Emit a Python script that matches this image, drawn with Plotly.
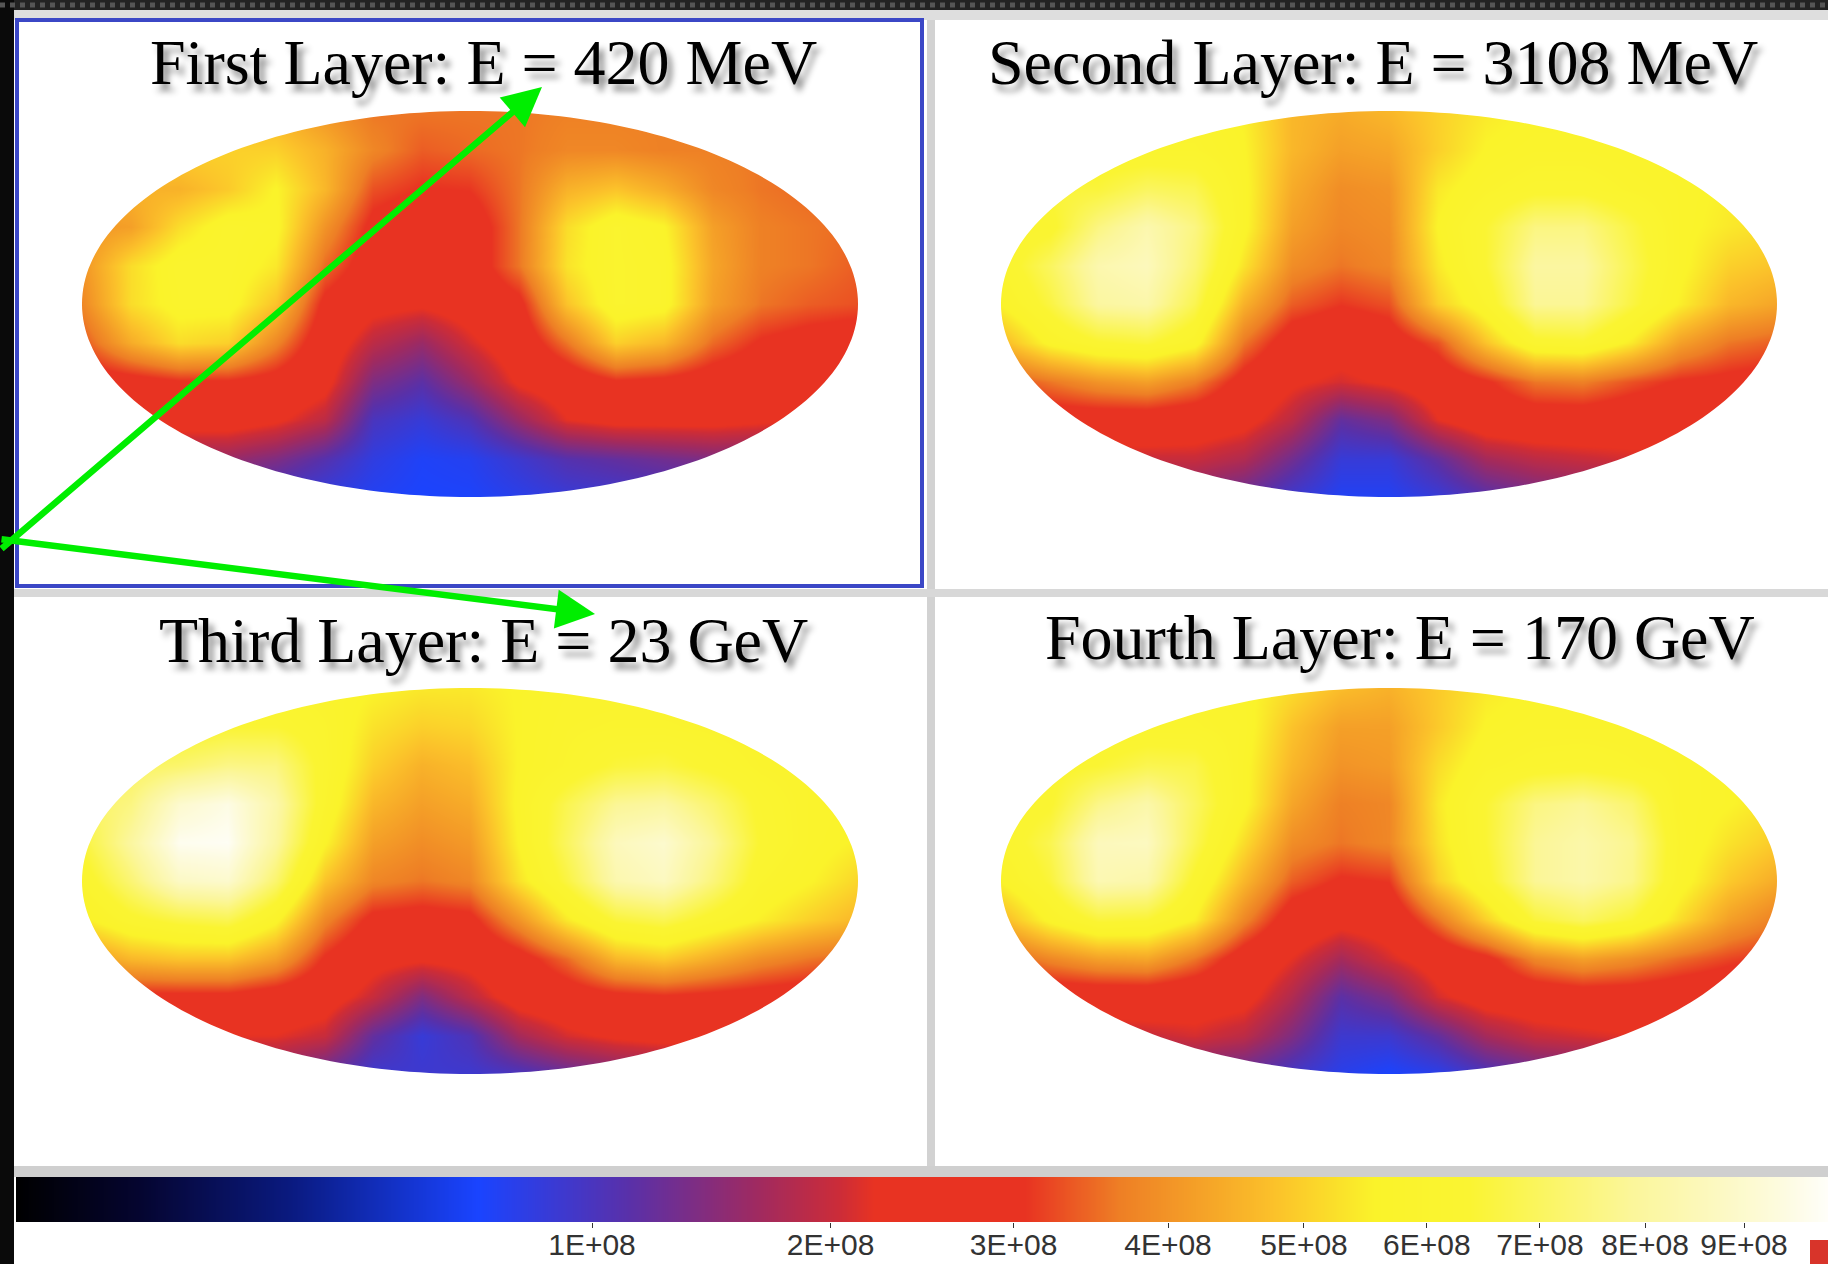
import numpy as np
import plotly.graph_objects as go

W, H = 1828, 1264

# Flux, in units of 1E+08; rows top to bottom, columns left to right
u_grid = [-1, -.875, -.75, -.625, -.5, -.375, -.25, -.125, 0, .125, .25, .375, .5, .625, .75, .875, 1]
v_grid = [1, .8, .6, .4, .2, 0, -.2, -.4, -.6, -.8, -1]

layer1 = [
    [4.5,4.5,4.5,4.5,4.5,4.0,3.6,3.6,3.6,3.6,3.7,3.7,3.7,3.7,3.7,3.6,3.6],
    [5,5,5,5,5.0,4.5,3.8,3.4,3.5,3.6,3.8,3.8,3.7,3.7,3.6,3.6,3.6],
    [4.5,4.5,4.5,4.9,5.6,4.6,3.3,3.05,3.1,3.6,4.5,4.8,4.4,3.8,3.6,3.5,3.5],
    [4.0,4.2,5.2,5.9,5.7,4.0,2.9,2.6,2.7,3.6,5.2,6,5.6,4.2,3.7,3.6,3.5],
    [4.0,5.2,5.9,5.9,5.4,3.5,2.7,2.5,2.7,3.6,5.3,6,5.8,4.3,3.7,3.6,3.4],
    [3.8,5.2,5.8,5.8,4.8,2.9,2.4,2.3,2.5,2.9,4.8,6,5.8,4.2,3.6,3.4,3.3],
    [3.3,4.4,5.2,5,3.8,2.6,1.9,1.6,2.1,2.6,3.6,5,4.6,3.5,3.0,2.8,2.7],
    [2.7,2.8,3,3,2.8,2.4,1.4,1.15,1.6,2.3,2.6,3,2.9,2.7,2.6,2.5,2.5],
    [2.5,2.5,2.5,2.5,2.3,1.9,1,.85,1.05,1.6,2.2,2.4,2.4,2.4,2.3,2.2,2.2],
    [1.6,1.6,1.6,1.6,1.4,1.1,.8,.68,.72,.9,1.1,1.2,1.3,1.4,1.4,1.4,1.4],
    [1,1,1,1,.9,.8,.7,.65,.66,.75,.85,.9,.95,1,1,1,1],
]
layer2 = [
    [5.8,5.8,5.8,5.8,5.8,5.5,4.6,4.4,4.6,5,5.4,5.6,5.6,5.6,5.6,5.6,5.6],
    [6,6,6,6,6,5.6,4.6,4.2,4.3,5,5.6,5.8,5.8,5.7,5.6,5.5,5.5],
    [6.5,6.5,6.5,7,6.8,5.7,4.4,3.9,4.0,5.4,5.9,6.2,6.2,5.9,5.7,5.5,5.5],
    [6,6.2,7.5,8.3,7.5,5.7,4.2,3.8,3.9,5.6,6.4,7.5,7.5,6.6,5.7,5.4,5.2],
    [6,7,8.3,8.6,7.3,5.3,3.9,3.6,3.8,5.4,6.4,8,8,6.8,5.7,5,4.8],
    [5.6,6.6,8,8.2,6.8,4.5,3.4,3.1,3.3,5,6,7.8,7.8,6.6,5.5,4.6,4.3],
    [4.6,5.7,6.3,6.5,5.8,3.6,2.7,2.5,2.7,3.3,4.8,6.2,6.3,5.4,4.2,3.6,3.4],
    [3.2,3.6,4,4.2,3.7,2.8,2.3,2.1,2.3,2.6,3,3.6,3.7,3.3,3,2.9,2.8],
    [2.6,2.7,2.7,2.7,2.6,2.4,1.9,1.2,1.4,2.2,2.6,2.7,2.7,2.6,2.6,2.5,2.5],
    [2,2,2,2,2,1.8,1.3,.85,.85,1.2,1.7,1.9,2,2.1,2.1,2.1,2.1],
    [1.5,1.5,1.5,1.5,1.4,1.2,.9,.7,.7,.85,1.1,1.3,1.4,1.4,1.4,1.4,1.4],
]
layer3 = [
    [6,6,6,6,6,5.8,5.6,5.4,5.4,5.6,5.8,5.8,5.8,5.8,5.8,5.8,5.8],
    [6.2,6.2,6.2,6.4,6.4,6,5.3,5,5.1,5.6,5.9,6,6,5.9,5.8,5.8,5.8],
    [7,7,7.2,7.6,7.5,6.1,5,4.5,4.7,5.6,6,6.5,6.6,6.2,5.9,5.8,5.8],
    [7,7.5,9,9.5,8.2,6,4.6,4.2,4.4,5.7,6.8,7.8,8,7.2,6.2,5.8,5.7],
    [6.5,8,9.7,9.8,8,5.6,4.2,3.9,4.1,5.6,7,8.6,9,7.8,6.3,5.8,5.5],
    [6,7.3,8.8,9,7.2,4.8,3.8,3.6,3.8,5.3,6.6,8.3,8.7,7.4,6,5.6,5.1],
    [5.4,6.2,6.6,6.8,5.7,3.8,2.9,2.8,2.9,4,5.4,6.5,6.8,6.1,5.5,5,4.6],
    [4,4.6,4.8,4.8,4.2,3,2.4,2.3,2.4,2.8,3.5,4.6,4.9,4.4,3.9,3.6,3.4],
    [2.8,2.9,2.9,2.9,2.7,2.5,2,1.4,1.9,2.5,2.7,2.9,3,2.9,2.8,2.7,2.6],
    [2.2,2.2,2.2,2.2,2.2,2,1.2,.85,1.05,1.7,2.1,2.3,2.4,2.4,2.3,2.3,2.3],
    [1.6,1.6,1.6,1.6,1.5,1.2,.9,.9,.9,1.0,1.2,1.4,1.5,1.5,1.5,1.5,1.5],
]
layer4 = [
    [5.8,5.8,5.8,5.8,5.8,5.7,5.2,4.7,4.5,4.9,5.4,5.6,5.6,5.6,5.6,5.6,5.6],
    [5.9,5.9,5.9,6,6,5.8,4.8,4.2,4.2,4.9,5.6,5.8,5.8,5.8,5.7,5.6,5.6],
    [6.2,6.2,6.4,6.8,6.7,5.7,4.6,4.0,4.1,5.2,5.9,6.1,6.2,6,5.8,5.6,5.5],
    [6,6.3,7.6,8.2,7,5.7,4.3,3.7,3.8,5.4,6.4,7.5,7.8,7.2,5.8,5.6,5.3],
    [6,6.8,8.6,8.7,6.8,5.2,3.9,3.6,3.8,5.3,6.4,7.8,8.2,7.7,5.9,5.3,4.9],
    [5.6,6.5,8.4,8.2,6.2,4.6,3.4,3.0,3.1,5,6.2,7.8,8.2,7.6,5.8,4.9,4.4],
    [4.6,5.7,6.5,6.4,5.5,3.8,2.7,2.4,2.5,3.6,5,6.5,7,6.4,5.2,4.2,3.7],
    [3.3,3.8,4.2,4.3,3.6,2.7,2.2,1.7,2.1,2.5,2.9,3.8,4.2,3.9,3.5,3.2,3],
    [2.6,2.6,2.6,2.6,2.5,2.4,1.8,1.15,1.4,2.1,2.5,2.6,2.7,2.7,2.6,2.5,2.5],
    [1.9,1.9,1.9,2,2.1,1.9,1.4,.9,.9,1.2,1.7,2,2.1,2.2,2.2,2.2,2.2],
    [1.3,1.3,1.3,1.3,1.3,1.2,.95,.75,.65,.75,1.0,1.2,1.3,1.4,1.4,1.4,1.4],
]

titles = ["First Layer: E = 420 MeV", "Second Layer: E = 3108 MeV",
          "Third Layer: E = 23 GeV", "Fourth Layer: E = 170 GeV"]
tick_values = [1, 2, 3, 4, 5, 6, 7, 8, 9]
tick_labels = ["1E+08", "2E+08", "3E+08", "4E+08", "5E+08", "6E+08", "7E+08", "8E+08", "9E+08"]

colorscale = [
    [0, "#000000"], [.068, "#050530"], [.151, "#0a1a80"], [.2535, "#1a44ff"],
    [.337, "#5a30a8"], [.407, "#a02a60"], [.452, "#cc2c38"], [.471, "#e83322"],
    [.554, "#e83322"], [.606, "#ee7f25"], [.689, "#fbc02a"], [.746, "#faf32a"],
    [.798, "#faf432"], [.887, "#fbf69a"], [.97, "#fdfbe0"], [1, "#ffffff"],
]
ZMAX = np.sqrt(10)

centres = [(470, 304), (1389, 304), (470, 881), (1389, 881)]
title_pos = [(483, 62), (1373, 62), (483, 640), (1400, 637)]
A, B = 388, 193
PADX, PADY = 1.1, 1.15


def px(x):
    return x / W


def py(y):
    return 1 - y / H


fig = go.Figure()
layout = dict(width=W, height=H, margin=dict(l=0, r=0, t=0, b=0, autoexpand=False), autosize=False,
              paper_bgcolor="white", plot_bgcolor="rgba(0,0,0,0)", showlegend=False)

shapes = []


def rect(x0, y0, x1, y1, fill, line=None, lw=0, layer="below"):
    shapes.append(dict(type="rect", xref="paper", yref="paper", x0=px(x0), x1=px(x1),
                       y0=py(y1), y1=py(y0), fillcolor=fill, layer=layer,
                       line=dict(color=line or fill, width=lw)))


rect(0, 0, W, 10, "#222222")
rect(0, 10, W, 20, "#dedede")
rect(0, 0, 14, H, "#0a0a0a")
rect(927, 20, 935, 1168, "#d2d2d2")
rect(14, 589, W, 597, "#d8d8d8")
rect(14, 1166, W, 1177, "#cfcfcf")
rect(1810, 1240, W, H, "#d8342a")
shapes.append(dict(type="line", xref="paper", yref="paper", x0=0, x1=1, y0=py(5), y1=py(5), layer="below",
                   line=dict(color="#555555", width=5, dash="dot")))

t = np.linspace(-1, 1, 241) * np.pi
ex, ey = np.cos(t), np.sin(t)

for i, (grid, (cx, cy)) in enumerate(zip([layer1, layer2, layer3, layer4], centres)):
    n = "" if i == 0 else str(i + 1)
    layout[f"xaxis{n}"] = dict(domain=[px(cx - A * PADX), px(cx + A * PADX)], range=[-PADX, PADX], visible=False,
                               anchor=f"y{n}", fixedrange=True, automargin=False)
    layout[f"yaxis{n}"] = dict(domain=[py(cy + B * PADY), py(cy - B * PADY)], range=[-PADY, PADY], visible=False,
                               anchor=f"x{n}", fixedrange=True, automargin=False)
    fig.add_trace(go.Heatmap(x=u_grid, y=v_grid, z=np.sqrt(np.array(grid)),
                             xaxis=f"x{n}", yaxis=f"y{n}", zmin=0, zmax=ZMAX, zsmooth="best",
                             colorscale=colorscale, showscale=False, hoverinfo="skip"))
    path = f"M {-PADX} {-PADY} L {PADX} {-PADY} L {PADX} {PADY} L {-PADX} {PADY} Z M " + " L ".join(
        f"{a:.4f} {b:.4f}" for a, b in zip(ex, ey)) + " Z"
    shapes.append(dict(type="path", xref=f"x{n}", yref=f"y{n}", path=path, fillcolor="white",
                       fillrule="evenodd", line=dict(width=0), layer="above"))

# Colour bar: square-root scale, so the tick spacing closes up to the right
bar_levels = np.linspace(0, ZMAX, 500)
layout["xaxis5"] = dict(domain=[px(16), 1], range=[0, (W - 16) / 576], anchor="y5", fixedrange=True,
                        automargin=False, tickmode="array", tickvals=np.sqrt(tick_values).tolist(),
                        ticktext=tick_labels, tickangle=0, ticks="outside", ticklen=5, tickcolor="#333",
                        ticklabelstandoff=-9, showgrid=False, zeroline=False, showline=False,
                        tickfont=dict(family="Liberation Sans Narrow, Liberation Sans", size=30, color="#333"))
layout["yaxis5"] = dict(domain=[py(1222), py(1177)], range=[0, 1], visible=False, anchor="x5", fixedrange=True,
                        automargin=False)
fig.add_trace(go.Heatmap(x=bar_levels, y=[0, 1], z=[bar_levels, bar_levels], xaxis="x5", yaxis="y5",
                         zmin=0, zmax=ZMAX, zsmooth="best", colorscale=colorscale,
                         showscale=False, hoverinfo="skip"))

# Frame around the first panel
shapes.append(dict(type="rect", xref="paper", yref="paper", x0=px(17), x1=px(922), y0=py(586), y1=py(20),
                   line=dict(color="#3b47c6", width=4), fillcolor="rgba(0,0,0,0)", layer="above"))

annotations = []
for text, (x, y) in zip(titles, title_pos):
    annotations.append(dict(text=text, x=px(x), y=py(y), xref="paper", yref="paper", showarrow=False,
                            xanchor="center", yanchor="middle",
                            font=dict(family="Liberation Serif", size=64, color="#000000",
                                      shadow="5px 7px 6px rgba(0,0,0,0.45)")))

for hx, hy, tx, ty in [(542, 87, -12, 550), (595, 614, -12, 539)]:
    annotations.append(dict(x=px(hx), y=py(hy), xref="paper", yref="paper", ax=tx - hx, ay=ty - hy,
                            axref="pixel", ayref="pixel", showarrow=True, text="", arrowhead=2,
                            arrowsize=1.2, arrowwidth=6.5, arrowcolor="#00ee00", standoff=0))

layout["shapes"] = shapes
layout["annotations"] = annotations
fig.update_layout(**layout)
fig.write_html("out.html", post_script="document.body.style.margin='0';", config=dict(displayModeBar=False))
